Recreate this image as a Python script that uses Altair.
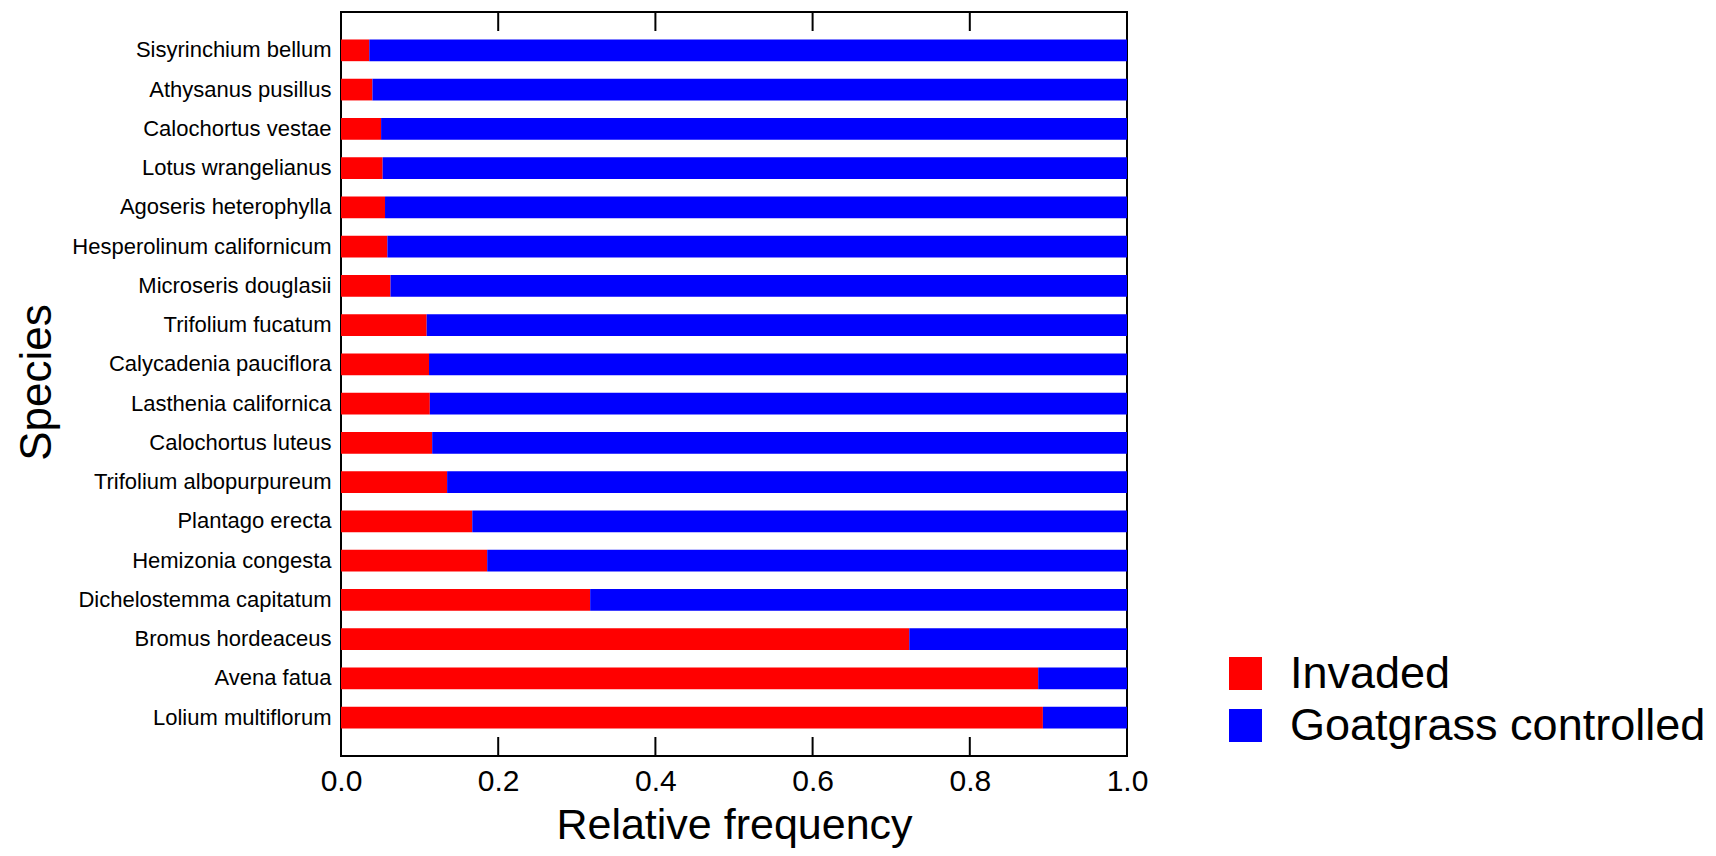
import altair as alt
import pandas as pd

species = [
    "Sisyrinchium bellum", "Athysanus pusillus", "Calochortus vestae",
    "Lotus wrangelianus", "Agoseris heterophylla", "Hesperolinum californicum",
    "Microseris douglasii", "Trifolium fucatum", "Calycadenia pauciflora",
    "Lasthenia californica", "Calochortus luteus", "Trifolium albopurpureum",
    "Plantago erecta", "Hemizonia congesta", "Dichelostemma capitatum",
    "Bromus hordeaceus", "Avena fatua", "Lolium multiflorum",
]
invaded = [0.036, 0.040, 0.051, 0.053, 0.056, 0.059, 0.063, 0.109, 0.112,
           0.113, 0.116, 0.135, 0.167, 0.186, 0.317, 0.723, 0.887, 0.893]
controlled = [0.964, 0.960, 0.949, 0.947, 0.944, 0.941, 0.937, 0.891, 0.888,
              0.887, 0.884, 0.865, 0.833, 0.814, 0.683, 0.277, 0.113, 0.107]
groups = ["Invaded", "Goatgrass controlled"]
colors = ["#ff0000", "#0000ff"]
x_ticks = [0.0, 0.2, 0.4, 0.6, 0.8, 1.0]
inner_ticks = [0.2, 0.4, 0.6, 0.8]

rows = []
for s, a, b in zip(species, invaded, controlled):
    rows.append({"species": s, "group": groups[0], "value": a, "ord": 0})
    rows.append({"species": s, "group": groups[1], "value": b, "ord": 1})
df = pd.DataFrame(rows)
tick_df = pd.DataFrame({"value": inner_ticks})

W, H = 786, 744
FONT = "Liberation Sans"

x_scale = alt.Scale(domain=[0, 1], nice=False, zero=True)
x_axis = alt.Axis(values=x_ticks, format=".1f", title="Relative frequency",
                  grid=False, ticks=False, tickSize=0, domain=False,
                  labelFlush=False, labelFontSize=30, labelPadding=10,
                  labelFont=FONT, labelColor="black",
                  titleFont=FONT, titleFontSize=43, titleFontWeight="normal",
                  titleColor="black", titleBaseline="alphabetic",
                  titleY=82, titleX=W / 2)

bars = alt.Chart(df).mark_bar().encode(
    x=alt.X("value:Q", stack="zero", scale=x_scale, axis=x_axis,
            title="Relative frequency"),
    y=alt.Y("species:N", sort=species,
            scale=alt.Scale(paddingInner=0.447, paddingOuter=0.70),
            axis=alt.Axis(title="Species", ticks=False, tickSize=0, domain=False,
                          labelFontSize=22, labelFont=FONT, labelColor="black",
                          labelPadding=10, labelLimit=500,
                          titleFont=FONT, titleFontSize=44, titleFontWeight="normal",
                          titleColor="black", titleAngle=270,
                          titleBaseline="alphabetic", titleAlign="center",
                          titleX=-291, titleY=370)),
    color=alt.Color("group:N",
                    scale=alt.Scale(domain=groups, range=colors),
                    sort=groups,
                    legend=alt.Legend(title=None, orient="none", legendX=882,
                                      legendY=639, symbolType="square",
                                      symbolSize=1089, symbolStrokeWidth=0,
                                      labelFontSize=45, labelFont=FONT,
                                      labelColor="black", labelOffset=22,
                                      labelLimit=700, rowPadding=6)),
    order=alt.Order("ord:Q"),
)

tick_top = alt.Chart(tick_df).mark_rule(color="black", strokeWidth=2).encode(
    x=alt.X("value:Q", scale=x_scale, axis=x_axis, title="Relative frequency"),
    y=alt.value(0), y2=alt.value(19),
)
tick_bottom = alt.Chart(tick_df).mark_rule(color="black", strokeWidth=2).encode(
    x=alt.X("value:Q", scale=x_scale, axis=x_axis, title="Relative frequency"),
    y=alt.value(H - 19), y2=alt.value(H),
)

chart = alt.layer(bars, tick_top, tick_bottom).properties(
    width=W, height=H,
    autosize=alt.AutoSizeParams(type="none"),
    padding={"left": 333, "top": 4, "right": 581, "bottom": 92},
).configure_view(stroke="black", strokeWidth=2)

chart.save("out.html", embed_options={"renderer": "svg", "actions": False})
